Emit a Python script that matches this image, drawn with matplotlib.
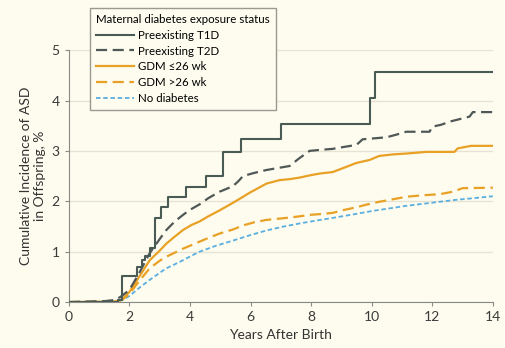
import matplotlib.pyplot as plt

# cumulative incidence (%)
t1d_x = [0, 1.62, 1.77, 2.25, 2.4, 2.51, 2.67, 2.84, 3.06, 3.28, 3.87, 4.53, 5.08, 5.70, 6.99, 9.93, 10.12, 14]
t1d_y = [0, 0.05, 0.52, 0.69, 0.83, 0.91, 1.07, 1.67, 1.88, 2.08, 2.28, 2.51, 2.97, 3.23, 3.53, 4.04, 4.57, 4.57]

t2d_x = [0, 1.2, 1.5, 1.7, 2.0, 2.3, 2.67, 3.0, 3.22, 3.5, 3.77, 4.0, 4.32, 4.6, 4.98, 5.42, 5.6,
         5.75, 6.1, 6.52, 6.9, 7.29, 7.6, 7.95, 8.3, 8.71, 9.1, 9.5, 9.7, 10.1, 10.49, 10.8, 11.14,
         11.5, 11.91, 12.0, 12.3, 12.57, 12.9, 13.23, 13.34, 14]
t2d_y = [0, 0.02, 0.04, 0.1, 0.24, 0.55, 0.97, 1.25, 1.43, 1.6, 1.73, 1.83, 1.94, 2.06, 2.19, 2.3, 2.4,
         2.5, 2.56, 2.62, 2.66, 2.7, 2.85, 3.0, 3.02, 3.04, 3.08, 3.12, 3.23, 3.25, 3.27, 3.32, 3.38,
         3.38, 3.38, 3.48, 3.52, 3.58, 3.63, 3.68, 3.77, 3.77]

gdm_early_x = [0, 1.5, 1.75, 2.0, 2.3, 2.67, 3.0, 3.22, 3.5, 3.77, 4.05, 4.32, 4.6, 4.98, 5.42, 5.7,
               5.97, 6.25, 6.52, 6.96, 7.3, 7.62, 8.0, 8.28, 8.71, 9.15, 9.49, 9.93, 10.25, 10.7, 11.2,
               11.8, 12.3, 12.73, 12.84, 13.28, 14]
gdm_early_y = [0, 0.01, 0.05, 0.2, 0.48, 0.83, 1.02, 1.16, 1.3, 1.43, 1.53, 1.6, 1.7, 1.82, 1.97, 2.07,
               2.17, 2.26, 2.35, 2.42, 2.44, 2.47, 2.52, 2.55, 2.58, 2.68, 2.76, 2.82, 2.9, 2.93, 2.95,
               2.98, 2.98, 2.98, 3.05, 3.1, 3.1]

gdm_late_x = [0, 1.5, 1.75, 2.0, 2.3, 2.67, 3.0, 3.22, 3.5, 3.77, 4.05, 4.32, 4.6, 4.98, 5.42, 5.75,
              6.1, 6.52, 7.18, 7.6, 7.95, 8.4, 8.71, 9.1, 9.49, 9.8, 10.25, 10.7, 11.14, 11.7, 12.24,
              12.68, 13.0, 14]
gdm_late_y = [0, 0.01, 0.04, 0.16, 0.4, 0.67, 0.82, 0.9, 0.98, 1.06, 1.13, 1.2, 1.27, 1.36, 1.44, 1.52,
              1.58, 1.63, 1.67, 1.7, 1.73, 1.75, 1.77, 1.83, 1.88, 1.93, 1.99, 2.04, 2.09, 2.12, 2.14,
              2.19, 2.26, 2.27]

nodm_x = [0, 1.6, 1.8, 2.0, 2.3, 2.67, 3.0, 3.22, 3.5, 3.77, 4.05, 4.32, 4.87, 5.42, 6.0, 6.52, 7.1,
          7.62, 8.2, 8.71, 9.2, 9.49, 10.04, 10.6, 11.14, 11.7, 12.24, 12.8, 13.34, 14]
nodm_y = [0, 0.01, 0.05, 0.12, 0.27, 0.44, 0.58, 0.67, 0.75, 0.83, 0.92, 1.0, 1.12, 1.22, 1.33, 1.42, 1.5,
          1.56, 1.62, 1.67, 1.72, 1.75, 1.81, 1.86, 1.91, 1.95, 1.99, 2.03, 2.06, 2.1]

x_ticks = [0, 2, 4, 6, 8, 10, 12, 14]
y_ticks = [0, 1, 2, 3, 4, 5]

bg = "#fdfcef"
plt.rcParams["font.family"] = ["Lato", "DejaVu Sans"]

fig = plt.figure(figsize=(5.06, 3.48), dpi=100, facecolor=bg)
ax = fig.add_axes([0.136, 0.132, 0.838, 0.724], facecolor=bg)

ax.plot(nodm_x, nodm_y, color="#5aaee0", lw=1.3, ls=(0, (2.5, 1.5)), label="No diabetes", zorder=3)
ax.plot(gdm_late_x, gdm_late_y, color="#e8a125", lw=1.6, ls=(0, (5, 2.5)), label="GDM >26 wk", zorder=4)
ax.plot(gdm_early_x, gdm_early_y, color="#e8a125", lw=1.6, label="GDM \u226426 wk", zorder=5)
ax.plot(t2d_x, t2d_y, color="#4f5856", lw=1.6, ls=(0, (5, 2.5)), label="Preexisting T2D", zorder=6)
ax.plot(t1d_x, t1d_y, color="#4a5a55", lw=1.5, drawstyle="steps-post", label="Preexisting T1D", zorder=7)

ax.set_xlim(0, 14)
ax.set_ylim(0, 5)
ax.set_xticks(x_ticks)
ax.set_yticks(y_ticks)
ax.yaxis.grid(True, color="#e6e3d3", lw=1)
ax.set_axisbelow(True)
for s in ["top", "right"]:
    ax.spines[s].set_visible(False)
for s in ["left", "bottom"]:
    ax.spines[s].set_color("#8a8a84")
ax.tick_params(colors="#8a8a84", labelcolor="#3a3a3a", labelsize=10, length=3)

ax.set_xlabel("Years After Birth", fontsize=10, color="#333333", labelpad=4)
ax.set_ylabel("Cumulative Incidence of ASD\nin Offspring, %", fontsize=10, color="#333333", labelpad=4)

h, l = ax.get_legend_handles_labels()
order = [4, 3, 2, 1, 0]
leg = fig.legend([h[i] for i in order], [l[i] for i in order], loc="upper left",
                 bbox_to_anchor=(0.166, 0.995), title="Maternal diabetes exposure status",
                 fontsize=8.3, title_fontsize=8.3, frameon=True, fancybox=False,
                 handlelength=3.3, handletextpad=0.35, labelspacing=0.42, borderpad=0.55,
                 alignment="left")
leg.get_frame().set_facecolor(bg)
leg.get_frame().set_edgecolor("#9a9a90")
leg.get_frame().set_alpha(1)

plt.savefig("out.png", dpi=100, facecolor=bg)
